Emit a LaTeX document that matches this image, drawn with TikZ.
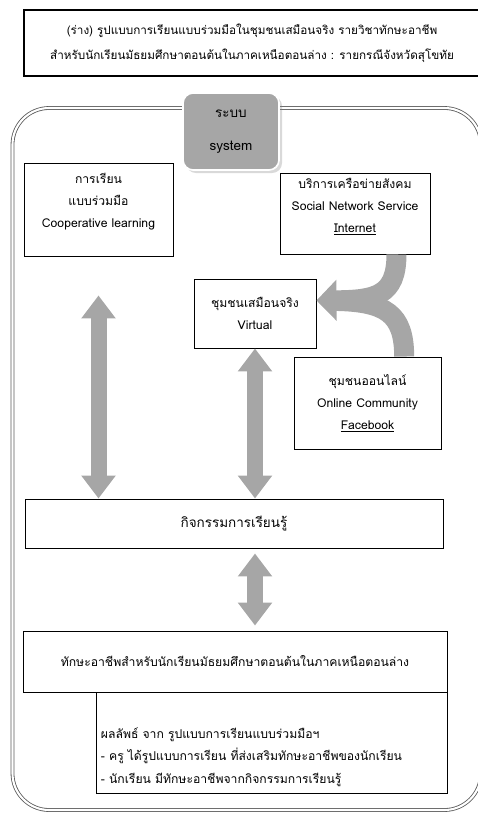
\documentclass[tikz,border=0pt]{standalone}
\usepackage{fontspec}
\setmainfont[Script=Thai]{Loma}
\usetikzlibrary{arrows.meta,shadows}

\definecolor{arrowgray}{RGB}{166,166,166}
\definecolor{framegray}{RGB}{90,90,90}

\begin{document}
\begin{tikzpicture}[x=0.03cm,y=-0.03cm,
    every node/.style={font=\fontsize{10.4}{19}\selectfont},
    box/.style={draw,line width=0.8pt,align=center,inner sep=0pt},
    bigarrow/.style={draw=arrowgray,line width=0.48cm,
      {Triangle[length=0.69cm,width=0.99cm]}-{Triangle[length=0.69cm,width=0.99cm]}},
    curvearrow/.style={draw=arrowgray,line width=0.6cm}]
  \useasboundingbox (0,0) rectangle (478,814);
  \clip (0,0) rectangle (478,814);

  % title
  \node[box,line width=1.3pt,minimum width=13.68cm,minimum height=1.98cm,
        font=\fontsize{10}{21.5}\selectfont] (title) at (252,43)
    {(ร่าง) รูปแบบการเรียนแบบร่วมมือในชุมชนเสมือนจริง รายวิชาทักษะอาชีพ\\
     สำหรับนักเรียนมัธยมศึกษาตอนต้นในภาคเหนือตอนล่าง : รายกรณีจังหวัดสุโขทัย};

  % outer frame
  \draw[framegray,line width=0.7pt,double=white,double distance=1.8pt,rounded corners=1.1cm]
    (12.5,108) rectangle (481,810);

  \node[fill=arrowgray,draw=white,line width=1.5pt,rounded corners=0.3cm,
        drop shadow={opacity=0.3},align=center,font=\fontsize{11.5}{28}\selectfont,
        minimum width=2.88cm,minimum height=2.31cm] (system) at (231,131.5)
    {ระบบ\\system};

  \node[box,text depth=0.56cm,minimum width=4.47cm,minimum height=2.79cm] (coop) at (98.5,209.5)
    {การเรียน\\แบบร่วมมือ\\Cooperative learning};
  \node[box,text depth=0.5cm,minimum width=4.5cm,minimum height=2.43cm] (social) at (355,213.5)
    {บริการเครือข่ายสังคม\\Social Network Service\\\underline{Internet}};
  \node[box,minimum width=3.66cm,minimum height=2.07cm] (virt) at (255,313.5)
    {ชุมชนเสมือนจริง\\Virtual};
  \node[box,minimum width=4.41cm,minimum height=2.76cm] (online) at (367.5,403)
    {ชุมชนออนไลน์\\Online Community\\\underline{Facebook}};
  \node[box,font=\fontsize{11.5}{14}\selectfont,minimum width=12.54cm,minimum height=1.47cm] (act) at (234,523.5)
    {กิจกรรมการเรียนรู้};
  \node[box,minimum width=12.72cm,minimum height=1.83cm] (skills) at (235,661.5)
    {ทักษะอาชีพสำหรับนักเรียนมัธยมศึกษาตอนต้นในภาคเหนือตอนล่าง};
  \node[box,align=left,text width=10.23cm,inner xsep=0.15cm,text depth=0.56cm,
        minimum height=3.03cm] (result) at (271.5,742.5)
    {ผลลัพธ์ จาก รูปแบบการเรียนแบบร่วมมือฯ\\
     - ครู ได้รูปแบบการเรียน ที่ส่งเสริมทักษะอาชีพของนักเรียน\\
     - นักเรียน มีทักษะอาชีพจากกิจกรรมการเรียนรู้};

  % arrows
  \draw[bigarrow,shorten <=1.17cm] (coop.south) -- (coop.south |- act.north);
  \draw[bigarrow] (virt.south) -- (virt.south |- act.north);
  \draw[bigarrow,shorten <=0.15cm,shorten >=0.15cm] (virt.south |- act.south) -- (virt.south |- skills.north);

  \draw[curvearrow,shorten >=0.6cm] ([xshift=1.1cm]online.north)
    .. controls +(0,1.3cm) and (385,302) .. ([yshift=0.39cm]virt.east);
  \draw[curvearrow,-{Triangle[length=0.6cm,width=1.2cm]}] ([xshift=-1.02cm]social.south east)
    .. controls +(0,-1.25cm) and (375,300) .. ([yshift=0.39cm]virt.east);
\end{tikzpicture}
\end{document}
